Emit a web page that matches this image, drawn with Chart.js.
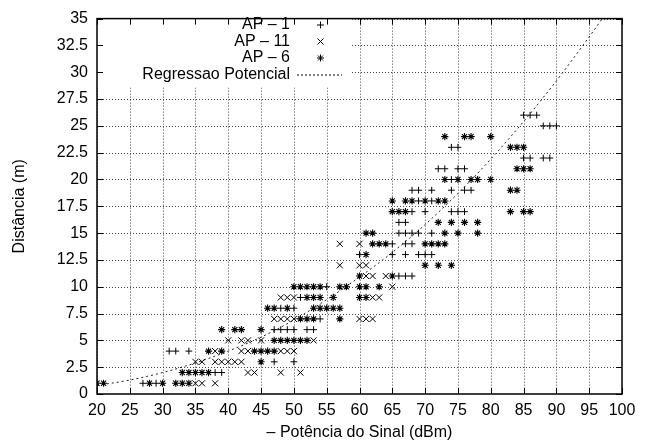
<!DOCTYPE html>
<html>
<head>
<meta charset="utf-8">
<script src="https://cdn.jsdelivr.net/npm/chart.js@4"></script>
<style>
  html, body { margin: 0; padding: 0; background: #fff; }
  #wrap { width: 647px; height: 445px; }
</style>
</head>
<body>
<div id="wrap"><canvas id="myChart" width="647" height="445"></canvas></div>
<script>
// tick labels
var xTicks = [20,25,30,35,40,45,50,55,60,65,70,75,80,85,90,95,100];
var yTicks = [0,2.5,5,7.5,10,12.5,15,17.5,20,22.5,25,27.5,30,32.5,35];

// AP - 1 (+)
var ap1X = [27,29, 38,39, 47,50, 31,32,34, 47,48,49,50,52,53, 54, 48,50, 51, 55,
            66,67,68, 60,65,67,69,70,71, 65,67,68, 66,67,68,69,71, 66,67,
            68,70,74,75,76, 69,71, 68,69,71,74,76,77, 74, 72,73,75,76,
            74,75, 85,86,88,89, 88,89,90, 85,86,87];
var ap1Y = [1,1, 2,2, 3,3, 4,4,4, 6,6,6,6,6,6, 7, 8,8, 9, 10,
            11,11,11, 13,13,13,13,13,13, 14,14,14, 15,15,15,15,15, 16,16,
            17,17,17,17,17, 18,18, 19,19,19,19,19,19, 20, 21,21,21,21,
            23,23, 22,22,22,22, 25,25,25, 26,26,26];

// AP - 11 (x)
var ap11X = [35,36,38, 43,44,48,51, 35,36,38,39,40,41,42, 38,42,43,48,49,50,
             40,42,43,45,53, 47,48,49,50,60,61,62, 48,49,50,62,63, 65,
             61,62,64, 57,60,61, 57,60];
var ap11Y = [1,1,1, 2,2,2,2, 3,3,3,3,3,3,3, 4,4,4,4,4,4,
             5,5,5,5,5, 7,7,7,7,7,7,7, 9,9,9,9,9, 10,
             11,11,11, 12,12,12, 14,14];

// AP - 6 (*)
var ap6X = [20,21,28,30,32,33,34, 33,34,35,36,37, 45, 37,39,44,45,46,47,
            47,48,49,50,51,52, 39,41,42,45, 51,52,53,57,
            46,47,49,53,54,55,56,57, 52,53,54,56,60,61,
            50,51,52,53,54,57,58,60,61,63, 60,65, 70,72,74, 61,
            62,63,64,70,71,72,73, 61,62,73,75,78, 72,74,76,78,
            65,66,67,83,85,86, 65,67,68,70,72,73, 83,84,
            73,75,77,78,80, 84,85,86, 83,84,85, 73,76,77,80];
var ap6Y = [1,1,1,1,1,1,1, 2,2,2,2,2, 3, 4,4,4,4,4,4,
            5,5,5,5,5,5, 6,6,6,6, 7,7,7,7,
            8,8,8,8,8,8,8,8, 9,9,9,9,9,9,
            10,10,10,10,10,10,10,10,10,10, 11,11, 12,12,12, 13,
            14,14,14,14,14,14,14, 15,15,15,15,15, 16,16,16,16,
            17,17,17,17,17,17, 18,18,18,18,18,18, 19,19,
            20,20,20,20,20, 21,21,21, 23,23,23, 24,24,24,24];

// Regressao Potencial
var regX = [20,25,30,35,40,45,50,55,60,65,70,75,80,85,90,95,97];
var regY = [0.8,1.3,2.0,2.9,4.0,5.3,6.9,8.8,10.9,13.2,15.8,18.7,21.9,25.4,29.2,33.3,35];

var legendLabels = ["AP \u2013 1", "AP \u2013 11", "AP \u2013 6", "Regressao Potencial"];

function pts(xs, ys) {
  return xs.map(function (x, i) { return { x: x, y: ys[i] }; });
}

var FONT = "'Liberation Sans', Arial, sans-serif";

var frame = {
  id: 'frame',
  beforeDatasetsDraw: function (chart) {
    var ctx = chart.ctx, a = chart.chartArea;
    var sx = chart.scales.x, sy = chart.scales.y;
    ctx.save();
    // grid, with the key area left blank
    ctx.beginPath();
    ctx.rect(a.left, a.top, a.right - a.left, a.bottom - a.top);
    ctx.rect(a.left, a.top, 254, 69);
    ctx.clip('evenodd');
    ctx.strokeStyle = '#444';
    ctx.lineWidth = 1;
    ctx.setLineDash([1, 2]);
    xTicks.forEach(function (v) {
      var p = Math.round(sx.getPixelForValue(v)) + 0.5;
      ctx.beginPath(); ctx.moveTo(p, a.top); ctx.lineTo(p, a.bottom); ctx.stroke();
    });
    yTicks.forEach(function (v) {
      var p = Math.round(sy.getPixelForValue(v)) + 0.5;
      ctx.beginPath(); ctx.moveTo(a.left, p); ctx.lineTo(a.right, p); ctx.stroke();
    });
    ctx.restore();

    ctx.save();
    ctx.strokeStyle = '#000';
    ctx.lineWidth = 1;
    xTicks.forEach(function (v) {
      var p = Math.round(sx.getPixelForValue(v)) + 0.5;
      ctx.beginPath();
      ctx.moveTo(p, a.bottom); ctx.lineTo(p, a.bottom - 6);
      ctx.moveTo(p, a.top); ctx.lineTo(p, a.top + 6);
      ctx.stroke();
    });
    yTicks.forEach(function (v) {
      var p = Math.round(sy.getPixelForValue(v)) + 0.5;
      ctx.beginPath();
      ctx.moveTo(a.left, p); ctx.lineTo(a.left + 6, p);
      ctx.moveTo(a.right, p); ctx.lineTo(a.right - 6, p);
      ctx.stroke();
    });
    ctx.lineWidth = 1.5;
    ctx.strokeRect(a.left, a.top, a.right - a.left, a.bottom - a.top);
    ctx.restore();
  },
  afterDraw: function (chart) {
    var ctx = chart.ctx, a = chart.chartArea;
    ctx.save();
    ctx.fillStyle = '#000';
    ctx.strokeStyle = '#000';
    ctx.font = '16px ' + FONT;
    ctx.textBaseline = 'middle';

    // axis titles
    ctx.textAlign = 'center';
    ctx.fillText("\u2013 Pot\u00eancia do Sinal (dBm)", (a.left + a.right) / 2, 433);
    ctx.save();
    ctx.translate(20, (a.top + a.bottom) / 2);
    ctx.rotate(-Math.PI / 2);
    ctx.fillText("Dist\u00e2ncia (m)", 0, 0);
    ctx.restore();

    // key
    ctx.textAlign = 'right';
    var rows = [25, 41.5, 58, 74.5];
    ctx.lineWidth = 1;
    legendLabels.forEach(function (t, i) {
      ctx.fillText(t, 290, rows[i]);
    });
    var cx = 320.5, r = 3.5;
    ctx.beginPath();
    // +
    ctx.moveTo(cx - r, rows[0]); ctx.lineTo(cx + r, rows[0]);
    ctx.moveTo(cx, rows[0] - r); ctx.lineTo(cx, rows[0] + r);
    // x
    ctx.moveTo(cx - 3, rows[1] - 3); ctx.lineTo(cx + 3, rows[1] + 3);
    ctx.moveTo(cx - 3, rows[1] + 3); ctx.lineTo(cx + 3, rows[1] - 3);
    // *
    ctx.moveTo(cx - r, rows[2]); ctx.lineTo(cx + r, rows[2]);
    ctx.moveTo(cx, rows[2] - r); ctx.lineTo(cx, rows[2] + r);
    ctx.moveTo(cx - 2.5, rows[2] - 2.5); ctx.lineTo(cx + 2.5, rows[2] + 2.5);
    ctx.moveTo(cx - 2.5, rows[2] + 2.5); ctx.lineTo(cx + 2.5, rows[2] - 2.5);
    ctx.stroke();
    ctx.setLineDash([2, 2]);
    ctx.beginPath();
    ctx.moveTo(297, rows[3] + 0.5); ctx.lineTo(342, rows[3] + 0.5);
    ctx.stroke();
    ctx.restore();
  }
};

var ctx = document.getElementById("myChart");
var myChart = new Chart(ctx, {
  type: 'scatter',
  data: {
    datasets: [
      {
        label: legendLabels[0],
        data: pts(ap1X, ap1Y),
        pointStyle: 'cross',
        pointRadius: 3.4,
        borderColor: '#000',
        backgroundColor: '#000',
        pointBorderWidth: 1
      },
      {
        label: legendLabels[1],
        data: pts(ap11X, ap11Y),
        pointStyle: 'crossRot',
        pointRadius: 4.3,
        borderColor: '#000',
        backgroundColor: '#000',
        pointBorderWidth: 1
      },
      {
        label: legendLabels[2],
        data: pts(ap6X, ap6Y),
        pointStyle: 'star',
        pointRadius: 3.6,
        borderColor: '#000',
        backgroundColor: '#000',
        pointBorderWidth: 1.1
      },
      {
        type: 'line',
        label: legendLabels[3],
        data: pts(regX, regY),
        showLine: true,
        borderColor: '#222',
        borderWidth: 1,
        borderDash: [2, 3],
        pointRadius: 0,
        cubicInterpolationMode: 'monotone',
        fill: false
      }
    ]
  },
  options: {
    responsive: false,
    animation: false,
    events: [],
    layout: { padding: { left: 0, top: 13, right: 25, bottom: 0 } },
    plugins: { legend: { display: false }, tooltip: { enabled: false } },
    scales: {
      x: {
        type: 'linear',
        min: 20, max: 100,
        afterBuildTicks: function (s) { s.ticks = xTicks.map(function (v) { return { value: v }; }); },
        afterFit: function (s) { s.height = 51; },
        grid: { display: false, drawTicks: false },
        border: { display: false },
        ticks: { padding: 7, color: '#000', font: { family: FONT, size: 16 }, maxRotation: 0, autoSkip: false }
      },
      y: {
        type: 'linear',
        min: 0, max: 35,
        afterBuildTicks: function (s) { s.ticks = yTicks.map(function (v) { return { value: v }; }); },
        afterFit: function (s) { s.width = 97; },
        grid: { display: false, drawTicks: false },
        border: { display: false },
        ticks: { padding: 9, color: '#000', font: { family: FONT, size: 16 }, autoSkip: false }
      }
    }
  },
  plugins: [frame]
});
</script>
</body>
</html>
